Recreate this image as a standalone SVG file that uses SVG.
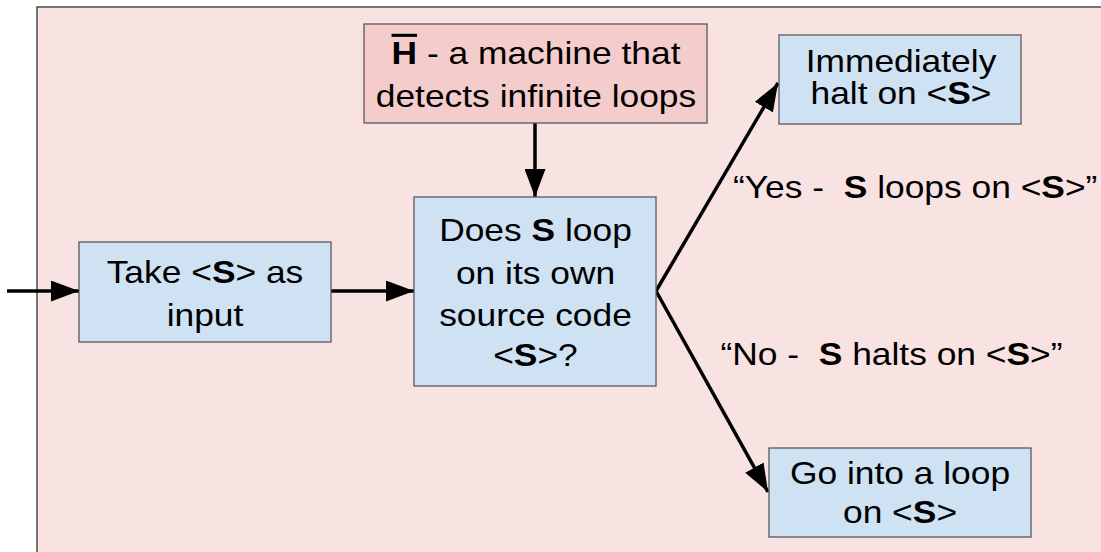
<svg xmlns="http://www.w3.org/2000/svg" width="1101" height="552" viewBox="0 0 1101 552">
  <style>
    .bg { fill: #f8e2e2; stroke: #333333; stroke-width: 1.3; }
    .box { stroke: #595959; stroke-width: 1.3; }
    .blue { fill: #cfe2f3; }
    .red { fill: #f4cccc; }
    text { font-family: "Liberation Sans", Arial, sans-serif; font-size: 30.5px; fill: #000000; }
    .b { font-weight: bold; }
    .over { text-decoration: overline; }
    .edge { stroke: #000000; stroke-width: 3.5; fill: none; marker-end: url(#arrow); }
  </style>
  <defs>
    <marker id="arrow" markerUnits="userSpaceOnUse" markerWidth="28" markerHeight="21" refX="28" refY="10.5" orient="auto">
      <path d="M0,0 L28,10.5 L0,21 z" fill="#000000"/>
    </marker>
  </defs>

  <rect width="1101" height="552" fill="#ffffff"/>
  <!-- enclosing machine outline -->
  <rect class="bg" x="37" y="7" width="1100" height="600"/>

  <g id="connectors">
    <line class="edge" x1="7" y1="291" x2="79" y2="291"/>
    <line class="edge" x1="331" y1="291" x2="414" y2="291"/>
    <line class="edge" x1="535" y1="123" x2="535" y2="197"/>
    <line class="edge" x1="656" y1="291" x2="778" y2="83"/>
    <line class="edge" x1="656" y1="291" x2="768" y2="492"/>
  </g>

  <g id="node-detector">
    <rect class="box red" x="364" y="24" width="343" height="99"/>
    <g transform="translate(536 0) scale(1.16 1)">
      <text text-anchor="middle"><tspan x="0" y="64.3"><tspan class="b over">H</tspan> - a machine that</tspan><tspan x="0" y="107.5">detects infinite loops</tspan></text>
    </g>
  </g>

  <g id="node-take-input">
    <rect class="box blue" x="79" y="242" width="252" height="100"/>
    <g transform="translate(205 0) scale(1.16 1)">
      <text text-anchor="middle"><tspan x="0" y="283.3">Take &lt;<tspan class="b">S</tspan>&gt; as</tspan><tspan x="0" y="326">input</tspan></text>
    </g>
  </g>

  <g id="node-question">
    <rect class="box blue" x="414" y="197" width="242" height="189"/>
    <g transform="translate(535.5 0) scale(1.16 1)">
      <text text-anchor="middle"><tspan x="0" y="241.3">Does <tspan class="b">S</tspan> loop</tspan><tspan x="0" y="284">on its own</tspan><tspan x="0" y="326.3">source code</tspan><tspan x="0" y="366.3">&lt;<tspan class="b">S</tspan>&gt;?</tspan></text>
    </g>
  </g>

  <g id="node-halt">
    <rect class="box blue" x="779" y="35" width="242" height="89"/>
    <g transform="translate(901 0) scale(1.16 1)">
      <text text-anchor="middle"><tspan x="0" y="72">Immediately</tspan><tspan x="0" y="104.3">halt on &lt;<tspan class="b">S</tspan>&gt;</tspan></text>
    </g>
  </g>

  <g id="node-loop">
    <rect class="box blue" x="769" y="448" width="262" height="89"/>
    <g transform="translate(900 0) scale(1.16 1)">
      <text text-anchor="middle"><tspan x="0" y="484">Go into a loop</tspan><tspan x="0" y="523">on &lt;<tspan class="b">S</tspan>&gt;</tspan></text>
    </g>
  </g>

  <g id="edge-labels">
    <g transform="translate(733 198.3) scale(1.16 1)">
      <text xml:space="preserve" x="0" y="0">“Yes -  <tspan class="b">S</tspan> loops on &lt;<tspan class="b">S</tspan>&gt;”</text>
    </g>
    <g transform="translate(720.5 365) scale(1.16 1)">
      <text xml:space="preserve" x="0" y="0">“No -  <tspan class="b">S</tspan> halts on &lt;<tspan class="b">S</tspan>&gt;”</text>
    </g>
  </g>
</svg>
